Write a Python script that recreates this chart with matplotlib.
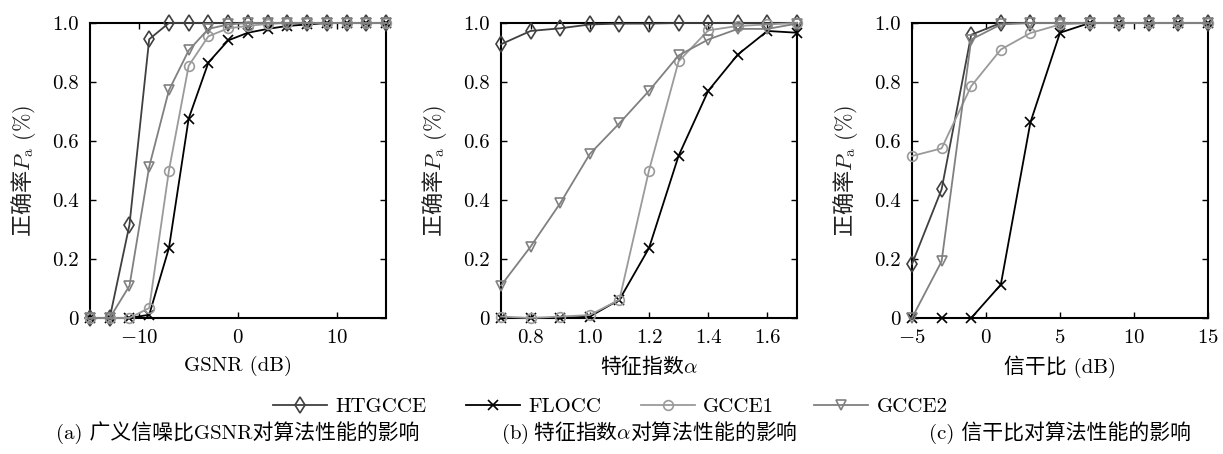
import matplotlib
matplotlib.use("Agg")
import matplotlib.pyplot as plt
import numpy as np

plt.rcParams['font.family'] = ['cmr10', 'Noto Sans CJK SC', 'DejaVu Sans']
plt.rcParams['mathtext.fontset'] = 'cm'
plt.rcParams['axes.unicode_minus'] = True
plt.rcParams['axes.formatter.use_mathtext'] = True

CJK = 'Noto Sans CJK SC'

# ---- data ----
x_gsnr = [-15, -13, -11, -9, -7, -5, -3, -1, 1, 3, 5, 7, 9, 11, 13, 15]
a_htgcce = [0, 0, 0.316, 0.945, 1, 1, 1, 1, 1, 1, 1, 1, 1, 1, 1, 1]
a_flocc = [0, 0, 0, 0.011, 0.237, 0.676, 0.866, 0.941, 0.967, 0.98, 0.99, 0.995, 1, 1, 1, 1]
a_gcce1 = [0, 0, 0, 0.034, 0.50, 0.855, 0.955, 0.982, 0.99, 0.997, 1, 1, 1, 1, 1, 1]
a_gcce2 = [0, 0, 0.109, 0.513, 0.772, 0.907, 0.98, 0.995, 1, 1, 1, 1, 1, 1, 1, 1]

x_alpha = [0.7, 0.8, 0.9, 1.0, 1.1, 1.2, 1.3, 1.4, 1.5, 1.6, 1.7]
b_htgcce = [0.928, 0.973, 0.982, 0.995, 0.998, 0.998, 1, 1, 1, 1, 1]
b_flocc = [0, 0, 0, 0.005, 0.062, 0.237, 0.55, 0.77, 0.893, 0.973, 0.967]
b_gcce1 = [0.005, 0, 0.005, 0.01, 0.062, 0.50, 0.87, 0.975, 0.99, 0.995, 1.0]
b_gcce2 = [0.11, 0.242, 0.389, 0.556, 0.66, 0.77, 0.89, 0.944, 0.98, 0.98, 0.998]

x_sir = [-5, -3, -1, 1, 3, 5, 7, 9, 11, 13, 15]
c_htgcce = [0.183, 0.436, 0.96, 1, 1, 1, 1, 1, 1, 1, 1]
c_flocc = [0, 0, 0, 0.113, 0.663, 0.967, 1, 1, 1, 1, 1]
c_gcce1 = [0.549, 0.575, 0.786, 0.91, 0.966, 0.995, 1, 1, 1, 1, 1]
c_gcce2 = [0, 0.192, 0.944, 0.995, 1, 1, 1, 1, 1, 1, 1]

series_names = ['HTGCCE', 'FLOCC', 'GCCE1', 'GCCE2']
y_ticks = [0, 0.2, 0.4, 0.6, 0.8, 1.0]
y_ticklabels = ['0', '0.2', '0.4', '0.6', '0.8', '1.0']

panels = [
    dict(x=x_gsnr, ys=[a_htgcce, a_flocc, a_gcce1, a_gcce2], xlim=(-15, 15),
         xticks=[-10, 0, 10], xticklabels=['$-10$', '$0$', '$10$'],
         xlabel='GSNR (dB)', xlabel_cjk=False,
         caption='(a) 广义信噪比GSNR对算法性能的影响', caption_cjk=False),
    dict(x=x_alpha, ys=[b_htgcce, b_flocc, b_gcce1, b_gcce2], xlim=(0.7, 1.7),
         xticks=[0.8, 1.0, 1.2, 1.4, 1.6], xticklabels=['0.8', '1.0', '1.2', '1.4', '1.6'],
         xlabel='特征指数$\\alpha$', xlabel_cjk=True,
         caption='$\\mathrm{(b)}$ 特征指数$\\alpha$对算法性能的影响', caption_cjk=True),
    dict(x=x_sir, ys=[c_htgcce, c_flocc, c_gcce1, c_gcce2], xlim=(-5, 15),
         xticks=[-5, 0, 5, 10, 15], xticklabels=['$-5$', '$0$', '$5$', '$10$', '$15$'],
         xlabel='信干比 (dB)', xlabel_cjk=False,
         caption='(c) 信干比对算法性能的影响', caption_cjk=False),
]

styles = [
    dict(color='#404040', marker='d', ms=8),
    dict(color='#000000', marker='x', ms=7),
    dict(color='#9a9a9a', marker='o', ms=7),
    dict(color='#808080', marker='v', ms=7.5),
]

W, H = 1223, 454
fig = plt.figure(figsize=(W / 100, H / 100), dpi=100)
lefts = [90, 501, 912]
aw, top, bot = 296, 23, 318
handles = []
for i, p in enumerate(panels):
    ax = fig.add_axes([lefts[i] / W, 1 - bot / H, aw / W, (bot - top) / H])
    for j, (y, st) in enumerate(zip(p['ys'], styles)):
        ln, = ax.plot(p['x'], y, color=st['color'], lw=1.3, marker=st['marker'],
                      ms=st['ms'], mfc='none', mec=st['color'], mew=1.2,
                      clip_on=False, zorder=3 + j, label=series_names[j])
        if i == 0:
            handles.append(ln)
    ax.set_xlim(*p['xlim'])
    ax.set_ylim(0, 1)
    ax.set_xticks(p['xticks'])
    ax.set_xticklabels(p['xticklabels'])
    ax.set_yticks(y_ticks)
    ax.set_yticklabels(y_ticklabels)
    ax.tick_params(direction='in', top=True, right=True, length=4, width=1,
                   labelsize=15, pad=8)
    for s in ax.spines.values():
        s.set_linewidth(1.5)
    if p['xlabel_cjk']:
        ax.set_xlabel(p['xlabel'], fontsize=15, labelpad=6, family=CJK)
    else:
        ax.set_xlabel(p['xlabel'], fontsize=15, labelpad=6)
    ax.set_ylabel('正确率$P_\\mathrm{a}\\ (\\%)$', fontsize=16, labelpad=10,
                  family=CJK, color='#222222')
    cx = (lefts[i] + aw / 2) / W
    if p['caption_cjk']:
        fig.text(cx, 1 - 433 / H, p['caption'], ha='center', va='center',
                 fontsize=15, family=CJK)
    else:
        fig.text(cx, 1 - 433 / H, p['caption'], ha='center', va='center', fontsize=15)

fig.legend(handles=handles, labels=series_names, loc='center',
           bbox_to_anchor=(610 / W, 1 - 407 / H), ncol=4, frameon=False,
           fontsize=15, handlelength=2.6, columnspacing=1.9, handletextpad=0.4)

fig.savefig('out.png', dpi=100)
